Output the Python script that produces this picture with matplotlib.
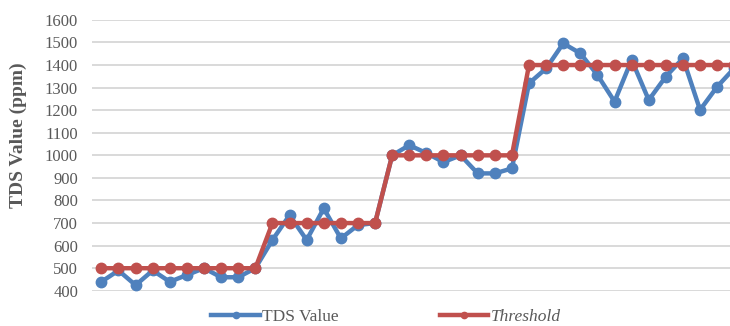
import numpy as np
import matplotlib.pyplot as plt

# readings per sample (38 samples, chart is cut off at the right edge)
tds_value = [440, 490, 425, 490, 440, 470, 500, 460, 460, 500,
             625, 735, 625, 765, 632, 691, 700,
             1000, 1045, 1010, 970, 1000, 920, 920, 942,
             1319, 1385, 1496, 1452, 1356, 1238, 1423, 1245, 1349, 1430, 1201, 1304, 1386]
threshold = [500] * 10 + [700] * 7 + [1000] * 8 + [1400] * 13
y_ticks = list(range(400, 1700, 100))

blue = '#4F81BD'
red = '#C0504D'
serif = ['Liberation Serif', 'DejaVu Serif']

fig = plt.figure(figsize=(7.3, 3.26), dpi=100)
ax = fig.add_axes([0.126, 0.108, 0.874, 0.831])

x = np.arange(len(tds_value))
ax.plot(x, tds_value, color=blue, lw=3.2, marker='o', ms=7.5, label='TDS Value',
        clip_on=False, zorder=3)
ax.plot(x, threshold, color=red, lw=3.2, marker='o', ms=7.5, label='Threshold',
        clip_on=False, zorder=4)

ax.set_xlim(-0.55, 36.75)
ax.set_ylim(400, 1600)
ax.set_yticks(y_ticks)
ax.set_xticks([])
ax.grid(axis='y', color='#D9D9D9', lw=1.4)
ax.set_axisbelow(True)
for s in ['top', 'right', 'left', 'bottom']:
    ax.spines[s].set_visible(False)
ax.tick_params(axis='y', length=0, pad=10, labelsize=12, labelcolor='#595959')
for lab in ax.get_yticklabels():
    lab.set_family(serif)

fig.text(0.025, 0.585, 'TDS Value (ppm)', rotation=90, ha='center', va='center',
         fontsize=14, fontweight='bold', color='#595959', family=serif)

leg = fig.legend(loc='center', bbox_to_anchor=(0.529, 0.028), ncol=2, frameon=False,
                 handlelength=2.8, columnspacing=5.8, handletextpad=0.15,
                 prop={'family': serif, 'size': 12.5})
for t in leg.get_texts():
    t.set_color('#595959')
leg.get_texts()[1].set_style('italic')
for h in leg.legend_handles:
    h.set_markersize(4.5)

fig.savefig('out.png', dpi=100)
